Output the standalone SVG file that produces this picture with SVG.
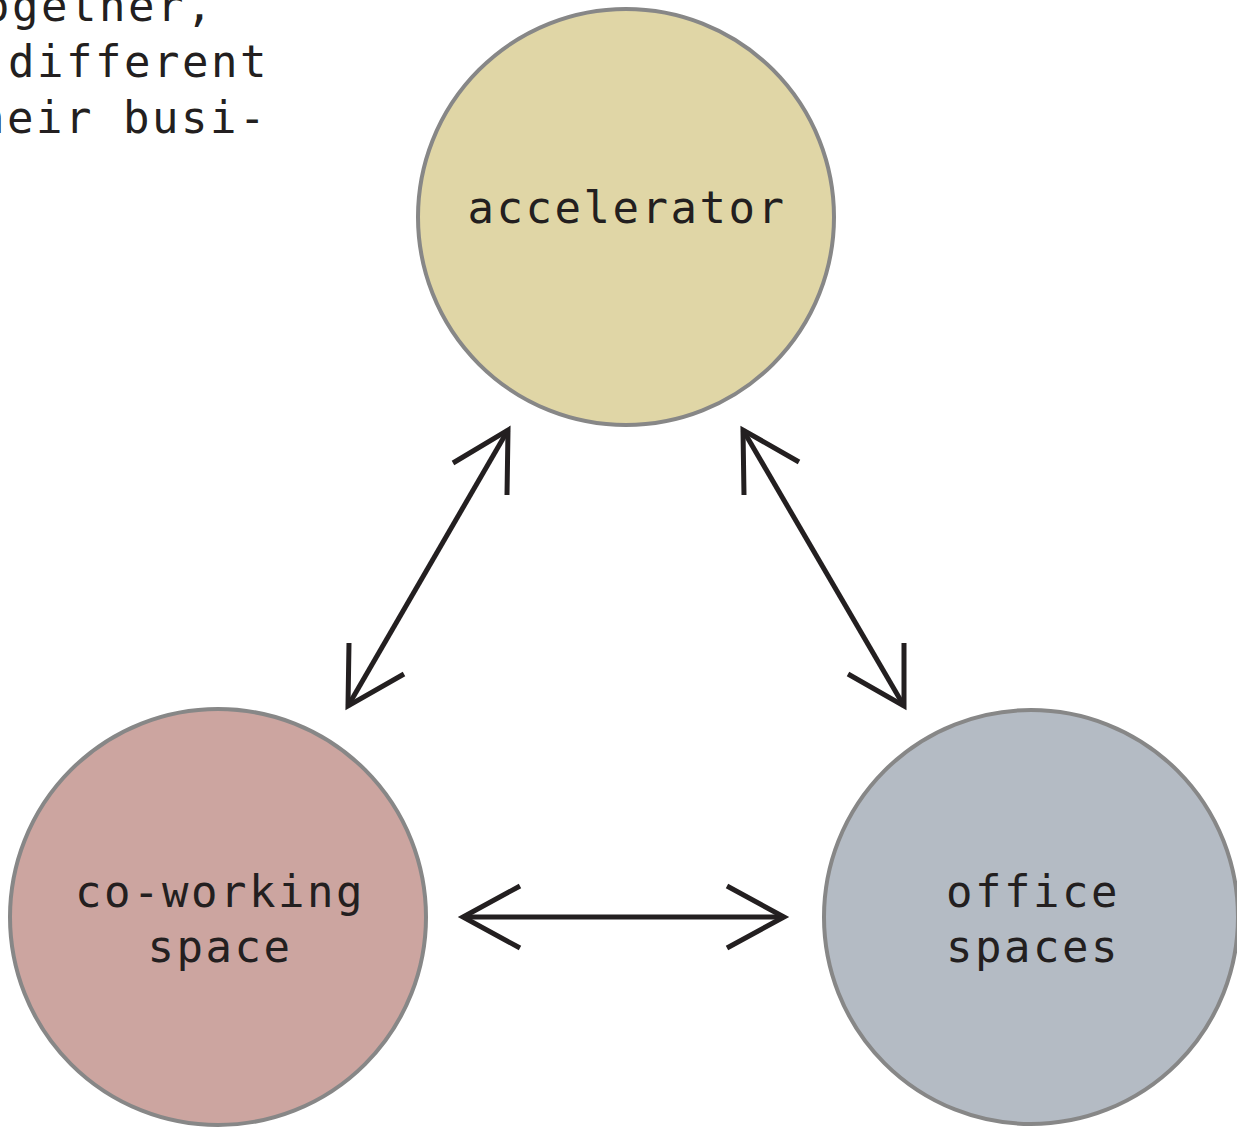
<svg xmlns="http://www.w3.org/2000/svg" width="1237" height="1128" viewBox="0 0 1237 1128">
<style>
.node{stroke:#878787;stroke-width:4}
.t{font-family:"DejaVu Sans Mono","Liberation Mono",monospace;font-size:44px;letter-spacing:2.5px;fill:#231f20}
.c{text-anchor:middle}
.a{fill:none;stroke:#231f20;stroke-width:5;stroke-linecap:butt;stroke-linejoin:miter}
</style>
<rect width="1237" height="1128" fill="#ffffff"/>
<g id="intro-text">
<text class="t" x="-46" y="21">together,</text>
<text class="t" x="8" y="77">different</text>
<text class="t" x="-51" y="133">their busi-</text>
</g>
<g id="accelerator">
<circle class="node" cx="626" cy="217" r="208" fill="#e0d6a6"/>
<text class="t c" x="627" y="223">accelerator</text>
</g>
<g id="co-working">
<circle class="node" cx="218" cy="917" r="208" fill="#cca5a0"/>
<text class="t c" x="220" y="907">co-working</text>
<text class="t c" x="220" y="962">space</text>
</g>
<g id="office">
<circle class="node" cx="1031" cy="917" r="207" fill="#b4bbc4"/>
<text class="t c" x="1033" y="907">office</text>
<text class="t c" x="1033" y="962">spaces</text>
</g>
<g id="connectors">
<path class="a" d="M508 430 L348 706"/>
<path class="a" d="M453 463 L508 430 L507 495"/>
<path class="a" d="M349 643 L348 706 L404 674"/>
<path class="a" d="M743 430 L904 706"/>
<path class="a" d="M799 462 L743 430 L744 495"/>
<path class="a" d="M904 643 L904 706 L848 674"/>
<path class="a" d="M463 917 L784 917"/>
<path class="a" d="M520 886 L463 917 L520 948"/>
<path class="a" d="M727 886 L784 917 L727 948"/>
</g>
</svg>
